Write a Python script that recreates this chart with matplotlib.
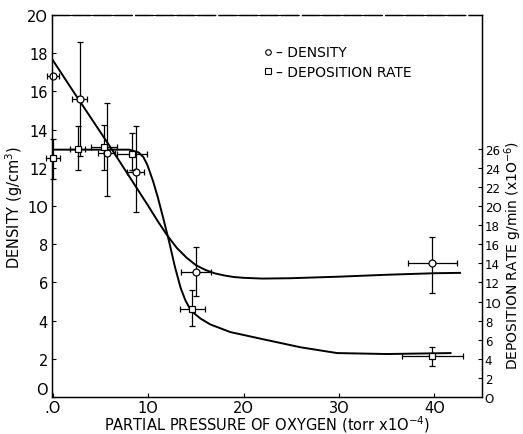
import matplotlib
matplotlib.use("Agg")
import matplotlib.pyplot as plt
from matplotlib.lines import Line2D

# ---- data ----
# density points (x = partial pressure of O2, torr x1e-4)
dens_x = [0.0, 2.8, 5.65, 8.7, 15.0, 39.8]
dens_y = [16.8, 15.6, 12.8, 11.8, 6.55, 7.0]
dens_yerr_lo = [0.0, 3.0, 2.3, 2.1, 1.25, 1.55]
dens_yerr_hi = [0.0, 3.0, 2.6, 2.4, 1.3, 1.4]
dens_xerr = [0.6, 0.8, 0.9, 0.9, 1.6, 2.6]

# deposition rate points (g/min x1e-6)
rate_x = [0.0, 2.6, 5.35, 8.3, 14.6, 39.8]
rate_y = [25.0, 26.0, 26.2, 25.4, 9.2, 4.3]
rate_yerr_lo = [2.2, 2.2, 2.4, 1.6, 1.8, 1.1]
rate_yerr_hi = [2.0, 2.4, 2.3, 2.2, 2.0, 0.9]
rate_xerr = [0.7, 0.8, 1.4, 1.6, 1.3, 3.2]

# fitted curves
dens_fit_x = [-0.1, 2, 4, 6, 8, 10, 11, 12, 13, 14, 15, 16, 17, 18, 19, 20, 22, 25, 30, 35, 40, 42.7]
dens_fit_y = [17.7, 16.1, 14.6, 13.1, 11.55, 10.0, 9.2, 8.45, 7.8, 7.3, 6.9, 6.65, 6.47, 6.36, 6.28,
              6.24, 6.2, 6.22, 6.3, 6.4, 6.48, 6.5]
rate_fit_x = [-0.1, 2, 4, 6, 8, 9.0, 9.5, 9.9, 10.5, 11.0, 11.6, 12.2, 12.8, 13.4, 13.9, 14.45, 15.0,
              15.5, 16.5, 18.6, 21.8, 26, 29.8, 35, 41.7]
rate_fit_y = [25.9, 25.9, 25.9, 25.9, 25.9, 25.6, 25.1, 24.3, 22.6, 20.9, 18.6, 16.2, 13.6, 11.4,
              10.1, 9.1, 8.6, 8.2, 7.6, 6.8, 6.1, 5.2, 4.6, 4.5, 4.6]

left_ticks = list(range(0, 21, 2))
left_labels = ["O", "2", "4", "6", "8", "1O", "12", "14", "16", "18", "2O"]
right_ticks = list(range(0, 27, 2))
right_labels = ["O", "2", "4", "6", "8", "1O", "12", "14", "16", "18", "2O", "22", "24", "26"]
x_ticks = [0, 10, 20, 30, 40]
x_labels = [".O", "1O", "2O", "3O", "4O"]

plt.rcParams['font.family'] = ['DejaVu Sans']
plt.rcParams['mathtext.fontset'] = 'dejavusans'

fig = plt.figure(figsize=(5.23, 4.35), dpi=100)
ax = fig.add_axes([52/523, 37/435, 430/523, 382/435])
ax.set_xlim(-0.1, 45)
ax.set_ylim(0, 20)

ax.plot(dens_fit_x, dens_fit_y, color='black', lw=1.4, zorder=3)

eb1 = ax.errorbar(dens_x, dens_y, yerr=[dens_yerr_lo, dens_yerr_hi], xerr=dens_xerr,
                  fmt='o', mfc='white', mec='black', ms=5, mew=0.9, ecolor='black',
                  elinewidth=0.9, capsize=2.5, capthick=0.9, zorder=4)

ax.set_xticks(x_ticks)
ax.set_xticklabels(x_labels)
ax.set_yticks(left_ticks)
ax.set_yticklabels(left_labels)
ax.tick_params(axis='both', direction='in', length=3, width=0.8, labelsize=10.5, colors='black')
ax.tick_params(axis='x', pad=2)
ax.tick_params(axis='y', pad=3)
ax.get_yticklabels()[0].set_va('bottom')
for s in ax.spines.values():
    s.set_linewidth(1.0)
ax.spines['top'].set_linestyle((0, (12, 3)))

ax.set_xlabel(r"PARTIAL PRESSURE OF OXYGEN (torr x1O$^{-4}$)", fontsize=10.5, labelpad=-1)
ax.set_ylabel(r"DENSITY (g/cm$^3$)", fontsize=10.5, labelpad=1)

ax2 = ax.twinx()
ax2.set_ylim(0, 40)
ax2.plot(rate_fit_x, rate_fit_y, color='black', lw=1.4, zorder=3)
eb2 = ax2.errorbar(rate_x, rate_y, yerr=[rate_yerr_lo, rate_yerr_hi], xerr=rate_xerr,
                   fmt='s', mfc='white', mec='black', ms=5, mew=0.9, ecolor='black',
                   elinewidth=0.9, capsize=2.5, capthick=0.9, zorder=4)
for eb in (eb1, eb2):
    for art in eb.get_children():
        art.set_clip_on(False)
ax2.set_yticks(right_ticks)
ax2.set_yticklabels(right_labels)
ax2.tick_params(axis='y', direction='in', length=3, width=0.8, labelsize=8.5, pad=2)
ax2.spines['top'].set_linestyle((0, (12, 3)))

fig.text(513/523, 1 - 255/435, r"DEPOSITION RATE g/min (x1O$^{-6}$)", rotation=90,
         ha='center', va='center', fontsize=10)

handles = [Line2D([], [], ls='none', marker='o', mfc='white', mec='black', ms=4, mew=0.8),
           Line2D([], [], ls='none', marker='s', mfc='white', mec='black', ms=4, mew=0.8)]
ax.legend(handles, ["– DENSITY", "– DEPOSITION RATE"], loc='upper left',
          bbox_to_anchor=(0.48, 0.935), frameon=False, fontsize=10,
          handlelength=0.6, handletextpad=0.3, labelspacing=0.4, borderaxespad=0)

fig.savefig("out.png", dpi=100)
